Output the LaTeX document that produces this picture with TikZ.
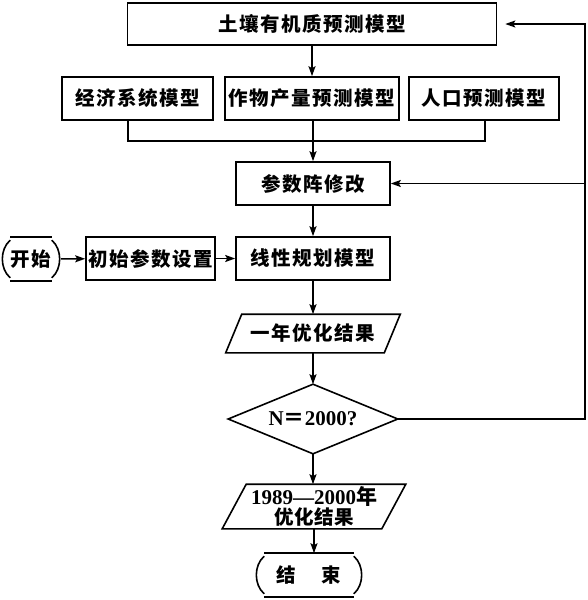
\documentclass[tikz,border=0pt]{standalone}
\usepackage{fontspec}
\setmainfont{Liberation Serif}
\newfontfamily\cjk{Noto Sans CJK SC}
\usetikzlibrary{arrows.meta,calc}
\newcommand\cjkbox{\cjk\bfseries\fontsize{19.5}{22}\selectfont\addfontfeature{LetterSpace=8}}
\newcommand\termshape[1]{%
  \draw ($(#1.north west)+(9,0)$) -- ($(#1.north east)+(-9,0)$);
  \draw ($(#1.south west)+(9,0)$) -- ($(#1.south east)+(-9,0)$);
  \draw ($(#1.north west)+(9,3)$) .. controls ($(#1.north west)+(-1.5,12)$) and ($(#1.south west)+(-1.5,-12)$) .. ($(#1.south west)+(9,-3)$);
  \draw ($(#1.north east)+(-9,3)$) .. controls ($(#1.north east)+(1.5,12)$) and ($(#1.south east)+(1.5,-12)$) .. ($(#1.south east)+(-9,-3)$);
}
\newcommand\parashape[2]{%
  \draw ($(#1.north west)+(#2,0)$) -- ($(#1.north east)+(#2,0)$) -- ($(#1.south east)+(-#2,0)$) -- ($(#1.south west)+(-#2,0)$) -- cycle;
}
\begin{document}
\begin{tikzpicture}[x=1pt,y=-1pt,
  line width=1.6pt,
  arr/.style={-{Stealth[length=10pt,width=7pt,inset=2pt]}},
  box/.style={draw, rectangle, inner sep=0pt, minimum height=43pt, font=\cjkbox},
  plain/.style={rectangle, inner sep=0pt, font=\cjkbox},
]
\useasboundingbox (0,0) rectangle (588,600);

\node[box, minimum width=369pt, minimum height=42pt] (top) at (312,24) {土壤有机质预测模型};
\node[box, minimum width=151pt] (m1) at (137.5,98.5) {经济系统模型};
\node[box, minimum width=174pt] (m2) at (312,98.5) {作物产量预测模型};
\node[box, minimum width=150pt] (m3) at (484,98.5) {人口预测模型};
\node[box, minimum width=154pt] (param) at (313,183.5) {参数阵修改};
\node[box, minimum width=154pt] (lp) at (313,258.5) {线性规划模型};
\node[box, minimum width=129pt] (init) at (150.5,258.5) {初始参数设置};
\node[plain, minimum width=58pt, minimum height=42pt] (start) at (31,259) {开始};
\node[plain, minimum width=157pt, minimum height=37pt] (r1) at (313,333.5) {一年优化结果};
\node[plain, minimum width=168pt, minimum height=68pt, font=\bfseries\fontsize{21}{22}\selectfont] (dec) at (313,419) {N{\cjk ＝}2000?};
\node[plain, minimum width=158pt, minimum height=43pt, align=center, font=\bfseries\fontsize{21}{20}\selectfont] (r2) at (314,506.5) {1989—2000{\cjk 年}\\{\cjkbox\addfontfeature{LetterSpace=2}优化结果}};
\node[plain, minimum width=106pt, minimum height=42pt] (end) at (309,575) {结\hspace{26pt}束};

\parashape{r1}{8}
\parashape{r2}{12}
\draw (dec.north) -- (dec.east) -- (dec.south) -- (dec.west) -- cycle;
\termshape{start}
\termshape{end}

\draw[arr] (top.south -| m2.north) -- (m2.north);
\coordinate (j1) at (128,141);
\coordinate (j3) at (485,141);
\draw (j1 |- m1.south) -- (j1) -- (j3) -- (j3 |- m3.south);
\draw[arr] (param.north |- m2.south) -- (param.north);
\draw[arr] (param) -- (lp);
\draw[arr] (start) -- (init);
\draw[arr] (init) -- (lp);
\draw[arr] (lp) -- (r1);
\draw[arr] (r1) -- (dec);
\draw[arr] (dec.south) -- (dec.south |- r2.north);
\draw[arr] (r2.south) -- (r2.south |- end.north);
\coordinate (fb) at (585,419);
\draw[arr, shorten >=8pt] (dec.east) -- (fb) -- (fb |- top.east) -- (top.east);
\draw[arr] (fb |- param.east) -- (param.east);
\end{tikzpicture}
\end{document}
